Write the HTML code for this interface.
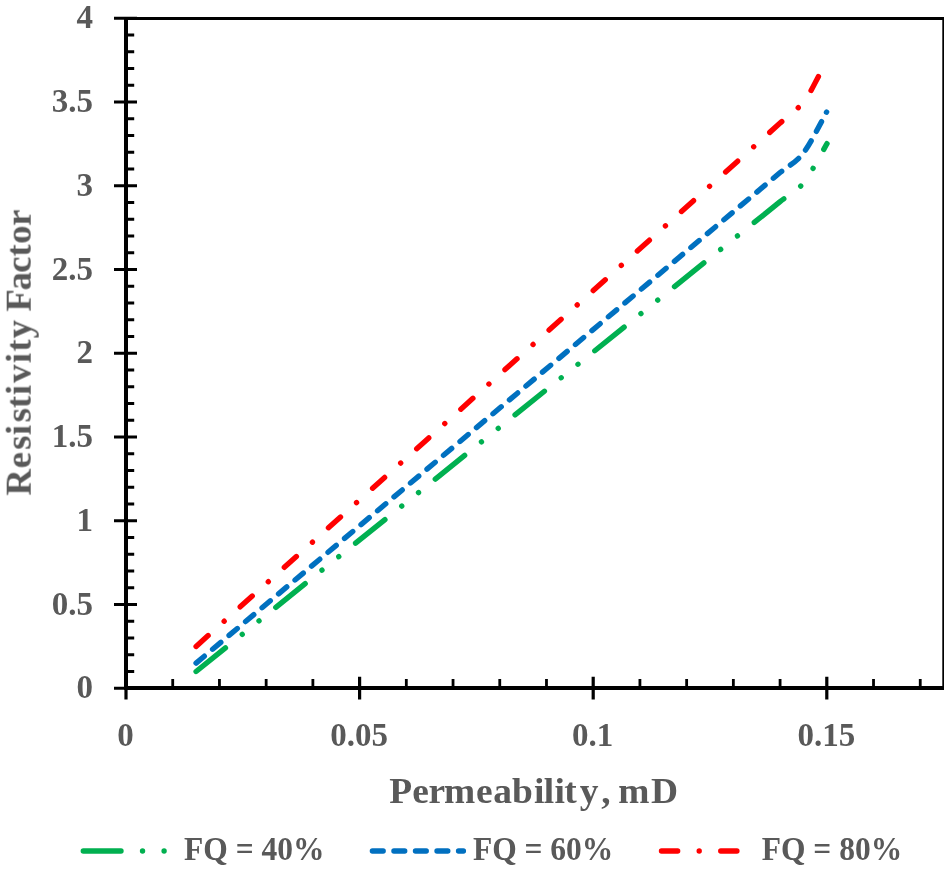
<!DOCTYPE html>
<html lang="en"><head><meta charset="utf-8"><title>Resistivity Factor vs Permeability</title>
<style>
html,body{margin:0;padding:0;background:#fff;}
body{width:944px;height:870px;overflow:hidden;}
svg{display:block;}
.txt{opacity:0.999;}
text{font-family:"Liberation Serif",serif;font-weight:bold;fill:#595959;}
.tk{font-size:33px;}
.ttl{font-size:35px;}
.lg{font-size:33px;}
</style></head><body>
<svg width="944" height="870" viewBox="0 0 944 870">
<rect width="944" height="870" fill="#fff"/>
<g stroke="#000" fill="none" stroke-linecap="butt">
<path d="M126 18.45H943.75V688" stroke-width="2.9"/>
<path d="M126 16.9V690" stroke-width="4"/>
<path d="M124 688.05H944" stroke-width="4"/>
<path d="M114 688.25H137M114 604.50H137M114 520.75H137M114 437.00H137M114 353.25H137M114 269.50H137M114 185.75H137M114 102.00H137M114 18.25H137" stroke-width="3.1"/>
<path d="M126 671.50H134.2M126 654.75H134.2M126 638.00H134.2M126 621.25H134.2M126 587.75H134.2M126 571.00H134.2M126 554.25H134.2M126 537.50H134.2M126 504.00H134.2M126 487.25H134.2M126 470.50H134.2M126 453.75H134.2M126 420.25H134.2M126 403.50H134.2M126 386.75H134.2M126 370.00H134.2M126 336.50H134.2M126 319.75H134.2M126 303.00H134.2M126 286.25H134.2M126 252.75H134.2M126 236.00H134.2M126 219.25H134.2M126 202.50H134.2M126 169.00H134.2M126 152.25H134.2M126 135.50H134.2M126 118.75H134.2M126 85.25H134.2M126 68.50H134.2M126 51.75H134.2M126 35.00H134.2" stroke-width="2.8"/>
<path d="M126.00 676.8V699.4M359.60 676.8V699.4M593.20 676.8V699.4M826.80 676.8V699.4" stroke-width="3.2"/>
<path d="M172.72 679V688M219.44 679V688M266.16 679V688M312.88 679V688M406.32 679V688M453.04 679V688M499.76 679V688M546.48 679V688M639.92 679V688M686.64 679V688M733.36 679V688M780.08 679V688M873.52 679V688M920.24 679V688" stroke-width="2.8"/>
</g>
<path d="M196.08 671.50L780.08 201.67C787.87 195.41 795.62 192.54 803.44 182.88C811.26 173.22 823.07 150.23 827.00 143.70" fill="none" stroke="#00B050" stroke-width="5.38" stroke-linecap="round" stroke-linejoin="round" stroke-dasharray="37.70 21.54 0.01 21.54 0.01 21.54"/>
<path d="M196.08 663.12L780.08 172.56C787.87 166.02 795.69 163.04 803.44 152.94C811.19 142.85 822.74 118.82 826.60 112.00" fill="none" stroke="#0070C0" stroke-width="5.38" stroke-linecap="round" stroke-linejoin="round" stroke-dasharray="10.77 10.77"/>
<path d="M196.08 646.38L780.08 123.11C787.87 116.13 797.05 109.93 803.44 102.18C809.83 94.43 815.91 80.86 818.40 76.60" fill="none" stroke="#FF0000" stroke-width="5.38" stroke-linecap="round" stroke-linejoin="round" stroke-dasharray="16.16 21.54 0.01 21.54"/>
<g class="txt">
<text class="tk" x="93" y="698.25" text-anchor="end">0</text>
<text class="tk" x="93" y="614.50" text-anchor="end">0.5</text>
<text class="tk" x="93" y="530.75" text-anchor="end">1</text>
<text class="tk" x="93" y="447.00" text-anchor="end">1.5</text>
<text class="tk" x="93" y="363.25" text-anchor="end">2</text>
<text class="tk" x="93" y="279.50" text-anchor="end">2.5</text>
<text class="tk" x="93" y="195.75" text-anchor="end">3</text>
<text class="tk" x="93" y="112.00" text-anchor="end">3.5</text>
<text class="tk" x="93" y="28.25" text-anchor="end">4</text>
<text class="tk" x="125.50" y="745.6" text-anchor="middle">0</text>
<text class="tk" x="359.10" y="745.6" text-anchor="middle">0.05</text>
<text class="tk" x="592.70" y="745.6" text-anchor="middle">0.1</text>
<text class="tk" x="826.30" y="745.6" text-anchor="middle">0.15</text>
<text class="ttl" transform="translate(534.3 803.4) scale(1.07 1)" text-anchor="middle" letter-spacing="0.55" dx="-0.28 -0.51 -0.84 -1.50 0.09 0.09 -0.42 0.47 -1.07 -0.33 -1.07 2.24 3.83 -1.26 -1.36 0.98">Permeability, mD</text>
<text class="ttl" transform="translate(30.7 348.4) rotate(-90) scale(1.05 1)" text-anchor="middle" letter-spacing="0.35" dx="-3.81 0.48 1.71 -0.10 2.10 -0.29 0.29 1.71 0.86 0.86 0.67 -0.67 -0.90 -1.38 -1.10 -0.48 0.10 -0.71">Resistivity Factor</text>
<path d="M83.30 851.05H174.30" fill="none" stroke="#00B050" stroke-width="5.38" stroke-linecap="round" stroke-dasharray="37.70 21.54 0.01 21.54 0.01 21.54"/>
<text class="lg" transform="translate(184.10 859.9) scale(0.955 1)">FQ = 40%</text>
<path d="M372.40 851.05H463.40" fill="none" stroke="#0070C0" stroke-width="5.38" stroke-linecap="round" stroke-dasharray="10.77 10.77"/>
<text class="lg" transform="translate(472.90 859.9) scale(0.955 1)">FQ = 60%</text>
<path d="M661.50 851.05H752.50" fill="none" stroke="#FF0000" stroke-width="5.38" stroke-linecap="round" stroke-dasharray="16.16 21.54 0.01 21.54"/>
<text class="lg" transform="translate(761.70 859.9) scale(0.955 1)">FQ = 80%</text>
</g>
</svg>
</body></html>
